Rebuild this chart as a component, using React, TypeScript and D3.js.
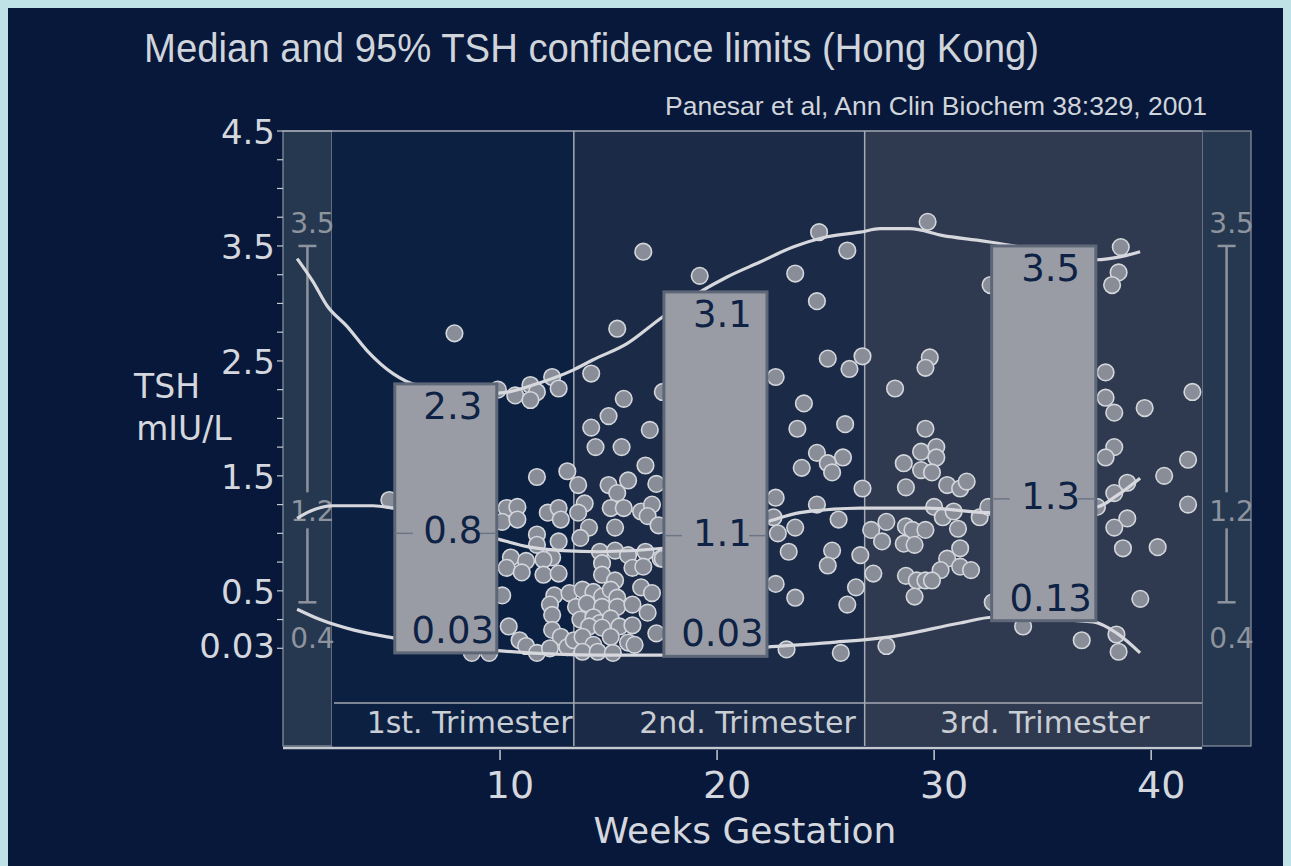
import * as d3 from 'd3';
import React, { useEffect, useRef } from 'react';

// gestation bands, in weeks
const trimesterNames = ['1st. Trimester', '2nd. Trimester', '3rd. Trimester'];
const trimesterEdges = [2.25, 13.4, 26.8, 42.35];
const trimesterLabelAt = [8.6, 21.4, 35.1];
const sideBands = [[0, 2.25], [42.35, 44.6]];

// non-pregnant reference limits shown in the side bands
const refLimits = [3.5, 1.2, 0.4];

const weekTicks = [10, 20, 30, 40];
const tshTicks = [4.5, 3.5, 2.5, 1.5, 0.5, 0.03];
const tshTickLabels = ['4.5', '3.5', '2.5', '1.5', '0.5', '0.03'];

// trimester summary boxes
const boxWeeks = [[5.15, 9.85], [17.55, 22.3], [32.65, 37.45]];
const boxHigh = [2.3, 3.1, 3.5];
const boxLowEdge = [-0.04, -0.07, 0.24];
const highLabels = ['2.3', '3.1', '3.5'];
const medianLabels = ['0.8', '1.1', '1.3'];
const medianLevels = [1.0, 0.98, 1.3];
const lowLabels = ['0.03', '0.03', '0.13'];

// smoothed centiles [week, TSH]
const upperCurve = [
  [0.65, 3.39], [1.38, 3.19], [2.03, 2.98], [2.95, 2.8], [3.87, 2.59], [5.07, 2.39], [6.18, 2.29],
  [9.91, 2.22], [11.84, 2.31], [13.36, 2.42], [14.29, 2.51], [15.85, 2.65], [17.47, 2.88],
  [19.22, 3.1], [20.46, 3.23], [21.98, 3.36], [23.5, 3.49], [25.07, 3.58], [26.59, 3.62],
  [27.51, 3.65], [28.89, 3.65], [30.41, 3.59], [31.98, 3.55], [32.72, 3.53], [34.88, 3.46],
  [37.51, 3.38], [38.43, 3.4], [39.49, 3.45],
];
const medianCurve = [
  [0.65, 1.13], [1.11, 1.18], [2.3, 1.24], [4.15, 1.24], [5.07, 1.22], [9.91, 0.95], [11.38, 0.88],
  [12.9, 0.85], [14.61, 0.84], [17.51, 0.87], [22.3, 1.1], [23.82, 1.18], [26.59, 1.22],
  [29.68, 1.22], [32.58, 1.18], [37.51, 1.23], [38.43, 1.33], [39.49, 1.48],
];
const lowerCurve = [
  [0.65, 0.34], [1.71, 0.25], [3.23, 0.16], [5.07, 0.09], [9.91, -0.02], [14.61, -0.06],
  [17.51, -0.06], [22.3, 0.01], [25.21, 0.05], [27.97, 0.1], [31.2, 0.22], [32.72, 0.27],
  [37.33, 0.23], [38.43, 0.13], [39.49, -0.04],
];

// individual results [week, TSH]
const pointsT1 = [
  [4.9, 1.29], [7.9, 2.74], [9.9, 2.25], [10.7, 2.2], [11.4, 2.29], [11.7, 2.23], [11.4, 2.16], [12.4, 2.36], [12.7, 2.26],
  [11.7, 1.49], [13.1, 1.54], [10.3, 1.22], [10.8, 1.23], [10.1, 1.1], [10.8, 1.12], [12.2, 1.18], [12.7, 1.22], [12.8, 1.12],
  [11.7, 0.99], [11.7, 0.9], [12.7, 0.93], [12.4, 0.79], [10.5, 0.79], [11.2, 0.76], [10.3, 0.7], [11.0, 0.66], [12.0, 0.77],
  [12.0, 0.64], [12.7, 0.65], [10.1, 0.46], [12.5, 0.46], [12.3, 0.38], [12.4, 0.29], [10.4, 0.19], [10.9, 0.07], [11.2, 0.02],
  [11.7, -0.04], [12.4, 0.16], [12.8, 0.1], [12.3, 0.0], [13.1, 0.01], [13.4, 0.07], [13.2, 0.48], [8.7, -0.04], [9.5, -0.04],
];
const pointsT2 = [
  [13.6, 1.42], [14.2, 2.39], [13.9, 1.26], [13.6, 1.18], [14.1, 1.05], [13.7, 0.96], [13.5, 0.36], [13.8, 0.51],
  [15.7, 2.17], [15.0, 2.02], [14.2, 1.92], [16.9, 1.9], [14.4, 1.75], [15.6, 1.75], [16.7, 1.59], [15.0, 1.42], [15.9, 1.46],
  [15.4, 1.35], [17.2, 1.43], [15.1, 1.22], [15.7, 1.22], [16.5, 1.19], [17.0, 1.25], [16.8, 1.15], [17.3, 1.07], [15.3, 1.05],
  [14.6, 0.84], [15.3, 0.85], [15.9, 0.81], [16.7, 0.84], [14.7, 0.74], [14.7, 0.64], [15.3, 0.59], [16.1, 0.7], [16.6, 0.71],
  [17.4, 0.78], [14.3, 0.49], [14.7, 0.45], [15.1, 0.51], [15.4, 0.44], [16.5, 0.53], [17.0, 0.48], [14.0, 0.39], [14.7, 0.36],
  [15.4, 0.36], [16.1, 0.38], [16.8, 0.31], [13.7, 0.25], [14.3, 0.27], [14.6, 0.22], [15.1, 0.26], [14.1, 0.19], [14.7, 0.18],
  [15.5, 0.19], [16.1, 0.2], [17.2, 0.13], [13.8, 0.1], [14.3, 0.03], [15.1, 0.1], [15.9, 0.05], [16.2, 0.03], [13.8, -0.03],
  [14.5, -0.03], [15.2, -0.04], [16.6, 3.45], [19.2, 3.24], [15.4, 2.78], [24.7, 3.62], [26.0, 3.46], [23.6, 3.26], [24.6, 3.02],
  [22.7, 2.36], [25.1, 2.52], [26.1, 2.43], [26.7, 2.54], [24.0, 2.13], [23.7, 1.91], [25.9, 1.95], [24.6, 1.7], [25.8, 1.66],
  [25.1, 1.61], [25.3, 1.53], [23.9, 1.57], [26.7, 1.39], [22.7, 1.31], [24.6, 1.25], [25.6, 1.12], [22.6, 1.14], [22.8, 1.0],
  [23.6, 1.05], [23.3, 0.84], [25.3, 0.85], [25.1, 0.72], [26.6, 0.81], [27.1, 1.03], [22.7, 0.56], [23.6, 0.44], [26.4, 0.53],
  [26.0, 0.38], [23.2, -0.01], [25.7, -0.04], [17.5, 2.23], [17.5, 0.78],
];
const pointsT3 = [
  [29.7, 3.71], [32.6, 3.16], [28.2, 2.26], [29.8, 2.53], [29.6, 2.44], [29.6, 1.91], [28.6, 1.61], [29.4, 1.71], [30.1, 1.75],
  [30.1, 1.66], [29.4, 1.55], [29.9, 1.53], [30.6, 1.42], [31.2, 1.39], [31.5, 1.45], [28.7, 1.4], [30.0, 1.23], [30.4, 1.14],
  [30.9, 1.19], [32.1, 1.14], [32.5, 1.23], [27.8, 1.1], [28.7, 1.06], [29.0, 1.03], [29.6, 1.03], [31.1, 1.04], [27.6, 0.93],
  [28.6, 0.91], [29.1, 0.9], [31.2, 0.87], [30.6, 0.78], [30.3, 0.68], [31.2, 0.71], [31.7, 0.68], [28.7, 0.63], [29.2, 0.59],
  [29.6, 0.59], [29.9, 0.59], [27.2, 0.65], [29.1, 0.45], [27.8, 0.02], [32.7, 0.4], [34.1, 0.19], [36.8, 0.07], [38.4, 0.12],
  [38.5, -0.03], [39.5, 0.43], [38.6, 3.49], [38.5, 3.27], [38.2, 3.16], [37.9, 2.4], [37.9, 2.18], [41.9, 2.23], [39.7, 2.09],
  [38.3, 2.05], [38.3, 1.75], [37.9, 1.66], [41.7, 1.64], [40.6, 1.5], [41.7, 1.25], [38.9, 1.44], [38.3, 1.35], [37.5, 1.23],
  [38.9, 1.13], [38.3, 1.05], [38.7, 0.87], [40.3, 0.88],
];

const WIDTH = 1275;
const HEIGHT = 858;
const FONT = '"DejaVu Sans", Verdana, sans-serif';

export default function App() {
  const svgRef = useRef(null);

  useEffect(() => {
    document.body.style.background = '#bfe2e6';

    const svg = d3.select(svgRef.current);
    svg.selectAll('*').remove();

    const x = d3.scaleLinear().domain([0, 44.6]).range([275, 1243]);
    const y = d3.scaleLinear().domain([-0.85, 4.5]).range([738, 123]);
    const top = y(4.5);
    const bottom = y(-0.85);

    svg.append('rect').attr('width', WIDTH).attr('height', HEIGHT).attr('fill', '#07183a');

    // title
    svg.append('text')
      .attr('x', 136).attr('y', 54)
      .attr('textLength', 895).attr('lengthAdjust', 'spacingAndGlyphs')
      .attr('font-family', '"Liberation Sans Narrow", "Liberation Sans", sans-serif')
      .attr('font-size', 40).attr('fill', '#d0d4db')
      .text('Median and 95% TSH confidence limits (Hong Kong)');
    svg.append('text')
      .attr('x', 657).attr('y', 107)
      .attr('textLength', 542).attr('lengthAdjust', 'spacingAndGlyphs')
      .attr('font-family', '"Liberation Sans Narrow", "Liberation Sans", sans-serif')
      .attr('font-size', 25).attr('fill', '#d0d4db')
      .text('Panesar et al, Ann Clin Biochem 38:329, 2001');

    // side bands
    svg.selectAll('.side')
      .data(sideBands)
      .enter()
      .append('rect')
      .attr('x', d => x(d[0]))
      .attr('y', top)
      .attr('width', d => x(d[1]) - x(d[0]))
      .attr('height', bottom - top)
      .attr('fill', '#263850')
      .attr('stroke', '#8e949e')
      .attr('stroke-width', 1.2);

    // trimester panels
    const triFill = ['#0c2142', '#1b2a46', '#2f3a50'];
    trimesterNames.forEach((name, i) => {
      svg.append('rect')
        .attr('x', x(trimesterEdges[i]))
        .attr('y', top)
        .attr('width', x(trimesterEdges[i + 1]) - x(trimesterEdges[i]))
        .attr('height', bottom - top)
        .attr('fill', triFill[i]);
    });

    const frame = svg.append('g').attr('stroke', '#a4a9b3').attr('stroke-width', 1.5);
    frame.append('line')
      .attr('x1', x(0)).attr('x2', x(trimesterEdges[3]))
      .attr('y1', top).attr('y2', top);
    trimesterEdges.slice(1, 3).forEach(w => {
      frame.append('line')
        .attr('x1', x(w)).attr('x2', x(w))
        .attr('y1', top).attr('y2', bottom);
    });
    frame.append('line')
      .attr('x1', x(2.35)).attr('x2', x(trimesterEdges[3]))
      .attr('y1', 695).attr('y2', 695);

    svg.selectAll('.trilabel')
      .data(trimesterNames)
      .enter()
      .append('text')
      .attr('x', (d, i) => x(trimesterLabelAt[i]))
      .attr('y', 725)
      .attr('text-anchor', 'middle')
      .attr('font-family', FONT)
      .attr('font-size', 30)
      .attr('fill', '#c9cdd4')
      .text(d => d);

    // x axis
    svg.append('line')
      .attr('x1', x(0)).attr('x2', x(trimesterEdges[3]))
      .attr('y1', 740).attr('y2', 740)
      .attr('stroke', '#c5c9d0').attr('stroke-width', 2.5);
    weekTicks.forEach(t => {
      svg.append('line')
        .attr('x1', x(t)).attr('x2', x(t))
        .attr('y1', 742).attr('y2', 752)
        .attr('stroke', '#c5c9d0').attr('stroke-width', 1.5);
      svg.append('text')
        .attr('x', x(t) + 10).attr('y', 790)
        .attr('text-anchor', 'middle')
        .attr('font-family', FONT).attr('font-size', 38)
        .attr('fill', '#d4d7dd')
        .text(t);
    });
    svg.append('text')
      .attr('x', 737).attr('y', 835)
      .attr('text-anchor', 'middle')
      .attr('font-family', FONT).attr('font-size', 36)
      .attr('fill', '#d4d7dd')
      .text('Weeks Gestation');

    // y axis
    d3.range(0, 4.51, 0.25).forEach(t => {
      svg.append('line')
        .attr('x1', 269).attr('x2', 275)
        .attr('y1', y(t)).attr('y2', y(t))
        .attr('stroke', '#c5c9d0').attr('stroke-width', 1.2);
    });
    tshTicks.forEach((t, i) => {
      svg.append('text')
        .attr('x', 267).attr('y', y(t) + 13)
        .attr('text-anchor', 'end')
        .attr('font-family', FONT).attr('font-size', 34)
        .attr('fill', '#d4d7dd')
        .text(tshTickLabels[i]);
    });
    svg.append('text')
      .attr('x', 159).attr('y', 390)
      .attr('text-anchor', 'middle')
      .attr('font-family', FONT).attr('font-size', 33)
      .attr('fill', '#d4d7dd')
      .text('TSH');
    svg.append('text')
      .attr('x', 176).attr('y', 432)
      .attr('text-anchor', 'middle')
      .attr('font-family', FONT).attr('font-size', 33)
      .attr('fill', '#d4d7dd')
      .text('mIU/L');

    // reference ranges in side bands
    sideBands.forEach(b => {
      const cx = x((b[0] + b[1]) / 2);
      const g = svg.append('g').attr('stroke', '#8e949e').attr('stroke-width', 2.5);
      g.append('line').attr('x1', cx).attr('x2', cx).attr('y1', y(refLimits[0])).attr('y2', y(refLimits[1]) - 18);
      g.append('line').attr('x1', cx).attr('x2', cx).attr('y1', y(refLimits[1]) + 18).attr('y2', y(refLimits[2]));
      g.append('line').attr('x1', cx - 9).attr('x2', cx + 9).attr('y1', y(refLimits[0])).attr('y2', y(refLimits[0]));
      g.append('line').attr('x1', cx - 9).attr('x2', cx + 9).attr('y1', y(refLimits[2])).attr('y2', y(refLimits[2]));
      const lbl = [y(refLimits[0]) - 13, y(refLimits[1]) + 11, y(refLimits[2]) + 46];
      refLimits.forEach((v, i) => {
        svg.append('text')
          .attr('x', cx + 5).attr('y', lbl[i])
          .attr('text-anchor', 'middle')
          .attr('font-family', FONT).attr('font-size', 28)
          .attr('fill', '#8e949e')
          .text(v);
      });
    });

    // scatter
    svg.append('g')
      .selectAll('circle')
      .data([...pointsT1, ...pointsT2, ...pointsT3])
      .enter()
      .append('circle')
      .attr('cx', d => x(d[0]))
      .attr('cy', d => y(d[1]))
      .attr('r', 8.3)
      .attr('fill', '#888d98')
      .attr('stroke', '#d3d6db')
      .attr('stroke-width', 1.6);

    // centile curves
    const line = d3.line()
      .x(d => x(d[0]))
      .y(d => y(d[1]))
      .curve(d3.curveMonotoneX);
    [upperCurve, medianCurve, lowerCurve].forEach(c => {
      svg.append('path')
        .datum(c)
        .attr('fill', 'none')
        .attr('stroke', '#d6d8dd')
        .attr('stroke-width', 3.2)
        .attr('d', line);
    });

    // trimester boxes
    boxWeeks.forEach((bw, i) => {
      const x0 = x(bw[0]);
      const x1 = x(bw[1]);
      const yTop = y(boxHigh[i]);
      const yBot = y(boxLowEdge[i]);
      const yMed = y(medianLevels[i]);
      const cx = (x0 + x1) / 2 + 7;
      svg.append('rect')
        .attr('x', x0).attr('y', yTop)
        .attr('width', x1 - x0).attr('height', yBot - yTop)
        .attr('fill', '#9a9ca5')
        .attr('stroke', '#5d6778')
        .attr('stroke-width', 3);
      [[x0, x0 + 18], [x1 - 18, x1]].forEach(s => {
        svg.append('line')
          .attr('x1', s[0]).attr('x2', s[1])
          .attr('y1', yMed).attr('y2', yMed)
          .attr('stroke', '#6c7586').attr('stroke-width', 1.5);
      });
      const labels = [[highLabels[i], yTop + 35], [medianLabels[i], yMed + 10], [lowLabels[i], yBot - 10]];
      labels.forEach(l => {
        svg.append('text')
          .attr('x', cx).attr('y', l[1])
          .attr('text-anchor', 'middle')
          .attr('font-family', FONT).attr('font-size', 37)
          .attr('fill', '#0d2244')
          .text(l[0]);
      });
    });
  }, []);

  return (
    <svg ref={svgRef} width={WIDTH} height={HEIGHT} style={{ display: 'block' }} />
  );
}
